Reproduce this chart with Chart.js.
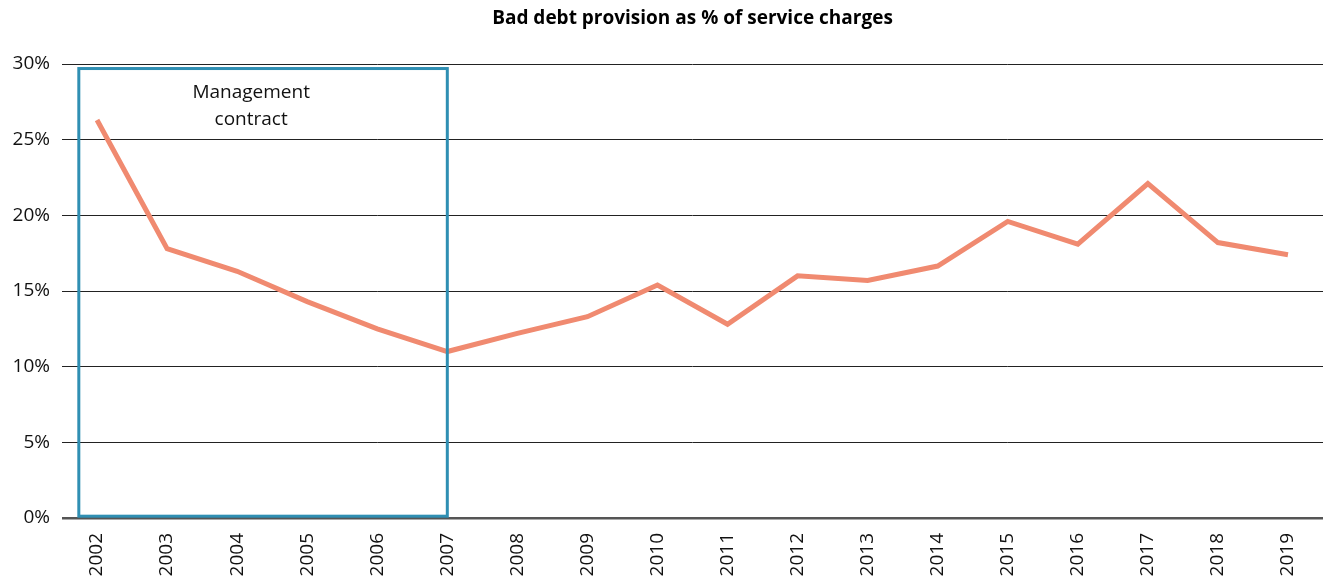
<!DOCTYPE html>
<html>
<head>
<meta charset="utf-8">
<script src="https://cdn.jsdelivr.net/npm/chart.js@4/dist/chart.umd.min.js"></script>
<style>
  html, body { margin: 0; padding: 0; background: #fff; }
  #wrap { width: 1323px; height: 579px; }
</style>
</head>
<body>
<div id="wrap"><canvas id="chart"></canvas></div>
<script>
// values
var years = ['2002', '2003', '2004', '2005', '2006', '2007', '2008', '2009', '2010',
    '2011', '2012', '2013', '2014', '2015', '2016', '2017', '2018', '2019'];
var badDebt = [26.3, 17.8, 16.3, 14.3, 12.5, 11.0, 12.2, 13.3, 15.4,
    12.8, 16.0, 15.7, 16.65, 19.6, 18.1, 22.1, 18.2, 17.4];
var yTicks = [0, 5, 10, 15, 20, 25, 30];

var titleText = 'Bad debt provision as % of service charges';
var boxLabel = ['Management', 'contract'];

// title centred on the plot area and the management contract box
var extras = {
    id: 'extras',
    afterDatasetsDraw: function (chart) {
        var ctx = chart.ctx;
        var x = chart.scales.x, y = chart.scales.y;
        var a = chart.chartArea;
        ctx.save();
        ctx.fillStyle = '#000';
        ctx.font = 'bold 19px "Open Sans"';
        ctx.textAlign = 'center';
        ctx.textBaseline = 'middle';
        ctx.fillText(titleText, (a.left + a.right) / 2, 19);

        var l = x.getPixelForValue(-0.26), r = x.getPixelForValue(5);
        var t = y.getPixelForValue(29.7), b = y.getPixelForValue(0.12);
        ctx.strokeStyle = '#2f8fb3';
        ctx.lineWidth = 3;
        ctx.strokeRect(l, t, r - l, b - t);

        ctx.font = '19px "Open Sans"';
        ctx.fillStyle = '#111';
        var cx = x.getPixelForValue(2.2);
        ctx.fillText(boxLabel[0], cx, y.getPixelForValue(28.1));
        ctx.fillText(boxLabel[1], cx, y.getPixelForValue(26.3));
        ctx.restore();
    }
};

var ctx = document.getElementById('chart').getContext('2d');
var chart = new Chart(ctx, {
    type: 'line',
    data: {
        labels: years,
        datasets: [{
            data: badDebt,
            borderColor: '#f08a70',
            borderWidth: 5,
            pointRadius: 0,
            tension: 0,
            fill: false
        }]
    },
    options: {
        responsive: true,
        maintainAspectRatio: false,
        animation: false,
        layout: { padding: { top: 64, left: 0, right: 0, bottom: 0 } },
        plugins: {
            legend: { display: false },
            tooltip: { enabled: false }
        },
        scales: {
            x: {
                offset: true,
                grid: { display: false, drawTicks: false },
                border: { display: false },
                ticks: {
                    minRotation: 90, maxRotation: 90,
                    padding: 15,
                    color: '#111',
                    font: { family: 'Open Sans', size: 19 }
                },
                afterFit: function (s) {
                    s.height = 61;
                    s.paddingLeft = 0;
                    s.paddingRight = 0;
                }
            },
            y: {
                min: 0, max: 30,
                afterBuildTicks: function (s) {
                    s.ticks = yTicks.map(function (v) { return { value: v }; });
                },
                grid: {
                    drawTicks: false,
                    color: function (c) { return c.tick.value === 0 ? '#555' : '#222'; },
                    lineWidth: function (c) { return c.tick.value === 0 ? 2.5 : 1; }
                },
                border: { display: false },
                ticks: {
                    padding: 12,
                    color: '#111',
                    font: { family: 'Open Sans', size: 19 },
                    callback: function (v) { return v + '%'; }
                },
                afterFit: function (s) { s.width = 62; }
            }
        }
    },
    plugins: [extras]
});
</script>
</body>
</html>
